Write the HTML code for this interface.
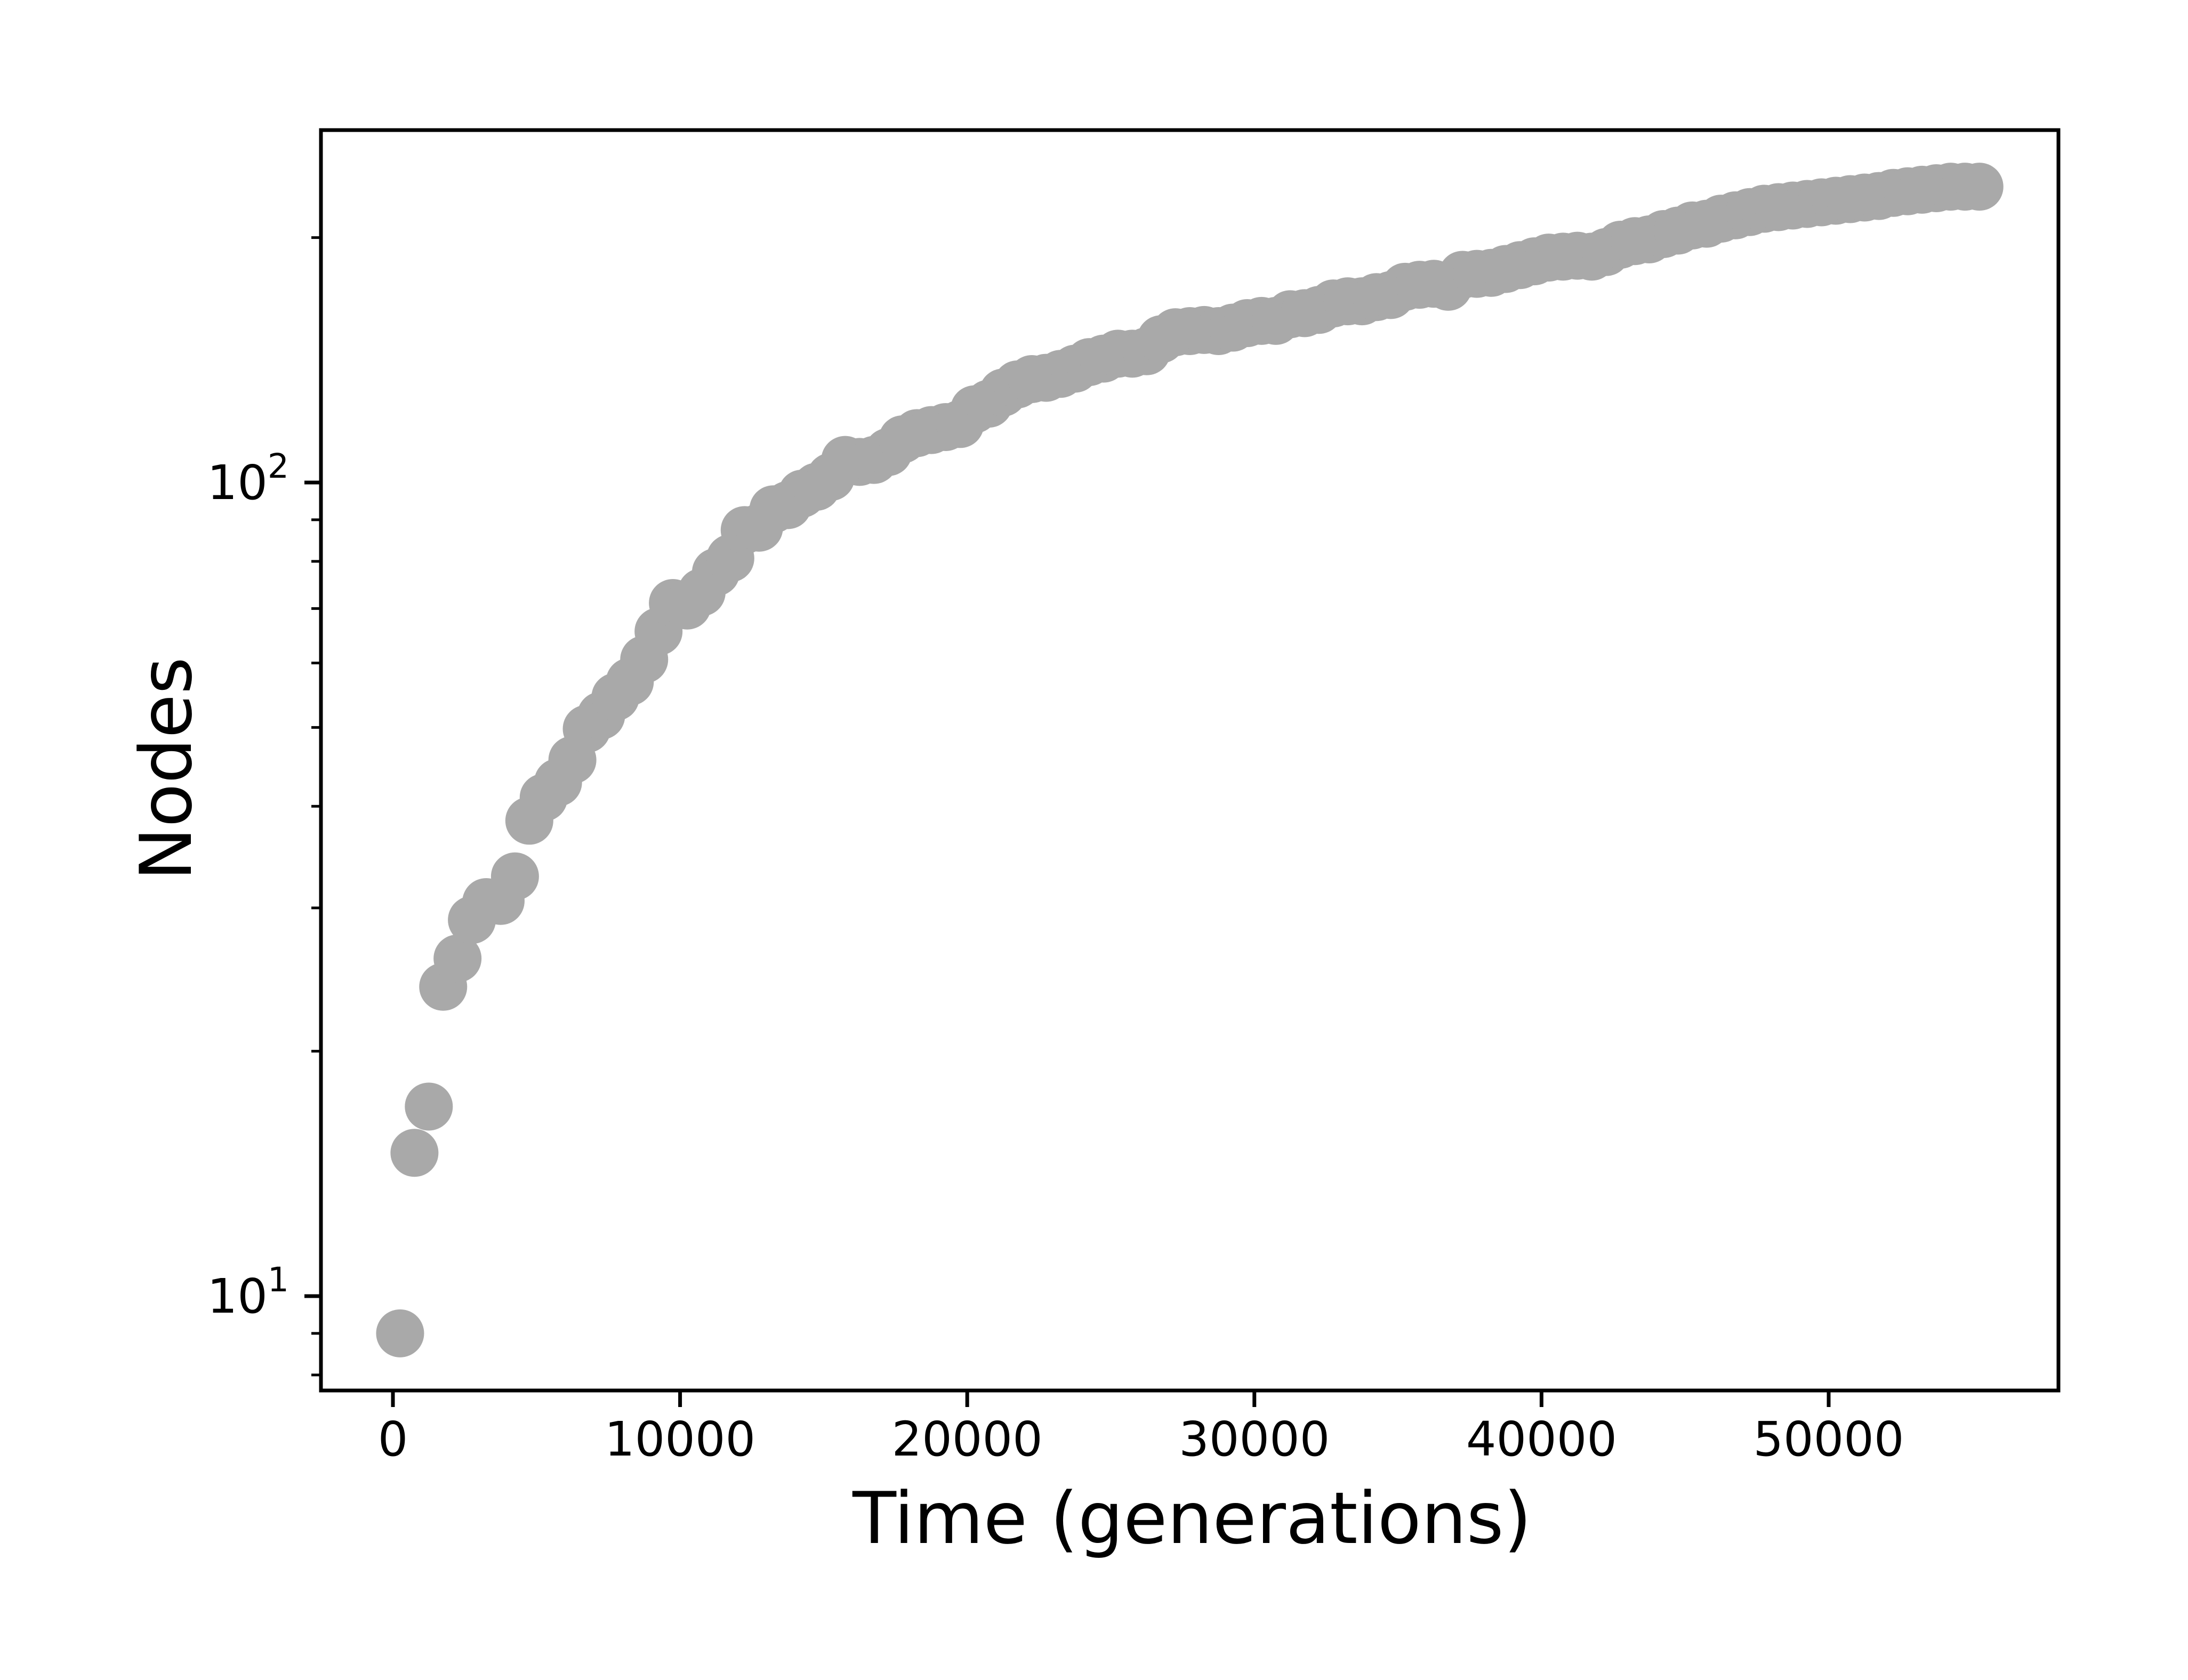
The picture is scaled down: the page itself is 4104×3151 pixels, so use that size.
<!DOCTYPE html>
<html><head><meta charset="utf-8"><style>
html,body{margin:0;padding:0;background:#fff;}
svg{display:block;font-family:"DejaVu Sans","Liberation Sans",sans-serif;}
</style></head>
<body>
<svg id="chart" width="4104" height="3151" viewBox="0 0 4104 3151" xmlns="http://www.w3.org/2000/svg">
<rect width="4104" height="3151" fill="#fff"/>
<g id="points"></g>
<g id="axes"></g>
<text x="2236" y="2894" font-size="134" text-anchor="middle">Time (generations)</text>
<text transform="translate(358,1442) rotate(-90)" font-size="134" text-anchor="middle">Nodes</text>
</svg>
<script>
const xStart = 250;
const xStep = 500;
const nodes = [9.0,15.0,17.1,24.0,26.0,29.0,30.5,30.6,32.8,38.4,41,42.8,45.6,49.8,51.7,54.5,56.9,60.6,65.6,71.1,70.6,73.3,77.6,80.7,87.4,88,92.7,93.8,96.9,98.8,101.6,106.6,106,106.6,109,113,115,116,117,118,123,125,129,132,134,134.5,136,138,140.6,142,144,144,145,150,153,153.5,154,153.5,155,157,158,158,161,161.5,163,166,167,167,169,170,174,175,175.5,174,180,180.5,181,183,185,187,189,189.5,190,189.5,192,196,198,199,202,204,207,208,211,213,215,217,218,219,220,221,222,223,224,225,227,228,229,230,231,231,231];
const xTicks = [0,10000,20000,30000,40000,50000];
const xTickLabels = ["0","10000","20000","30000","40000","50000"];
const yMajor = [10,100];
const yMajorExp = ["1","2"];
const yMinor = [8,9,20,30,40,50,60,70,80,90,200];

const L=602,R=3861,T=244,B=2608;
const X0=737, PX_PER=(3430-737)/50000;
function xs(v){return X0+v*PX_PER;}
function ys(v){return 905-(Math.log10(v)-2)*1526;}
const NS="http://www.w3.org/2000/svg";
function mk(tag,attrs,parent){const e=document.createElementNS(NS,tag);for(const k in attrs)e.setAttribute(k,attrs[k]);parent.appendChild(e);return e;}

const pg=document.getElementById('points');
nodes.forEach((v,i)=>{
  const c=mk('circle',{cx:xs(xStart+i*xStep),cy:ys(v),r:45,fill:'#a9a9a9'},pg);
  
  
});

const ag=document.getElementById('axes');
const frame=mk('rect',{x:L,y:T,width:R-L,height:B-T,fill:'none',stroke:'#000','stroke-width':7},ag);



xTicks.forEach((v,i)=>{
  const x=xs(v);
  const t=mk('line',{x1:x,x2:x,y1:B,y2:B+31,stroke:'#000','stroke-width':7},ag);
  
  
  const lb=mk('text',{x:x,y:2730,'font-size':89,'text-anchor':'middle'},ag);
  lb.textContent=xTickLabels[i];
  
  
});

yMajor.forEach((v,i)=>{
  const y=ys(v);
  const t=mk('line',{x1:L-31,x2:L,y1:y,y2:y,stroke:'#000','stroke-width':7},ag);
  
  
  const lb=mk('text',{x:542,y:y+31,'font-size':89,'text-anchor':'end'},ag);
  
  
  const b=mk('tspan',{},lb); b.textContent='10';
  const s=mk('tspan',{dy:-40,'font-size':63},lb); s.textContent=yMajorExp[i];
});

yMinor.forEach(v=>{
  const y=ys(v);
  const t=mk('line',{x1:L-18,x2:L,y1:y,y2:y,stroke:'#000','stroke-width':5},ag);
  
  
});
</script>
</body></html>
